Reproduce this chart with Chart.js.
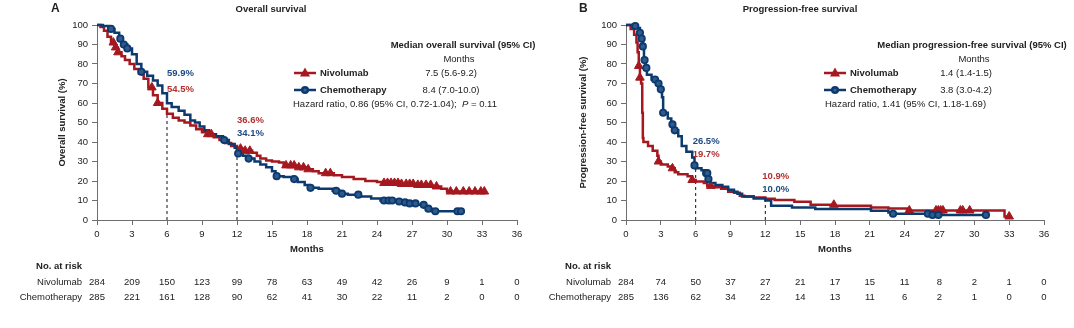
<!DOCTYPE html>
<html lang="en">
<head>
<meta charset="UTF-8">
<title>Overall survival and progression-free survival</title>
<script src="https://cdn.jsdelivr.net/npm/chart.js"></script>
<style>
    body {
        margin: 0;
        background: #fff;
        width: 1074px;
        height: 328px;
        overflow: hidden;
    }
    .panel {
        position: absolute;
        top: 0;
        height: 328px;
    }
    #panelA { left: 0; width: 540px; }
    #panelB { left: 540px; width: 534px; }
</style>
</head>
<body>

<div class="panel" id="panelA"><canvas id="osChart"></canvas></div>
<div class="panel" id="panelB"><canvas id="pfsChart"></canvas></div>

<script>
// ---- data ----
const riskMonths = [0, 3, 6, 9, 12, 15, 18, 21, 24, 27, 30, 33, 36];
const landmarkMonths = [6, 12];

// A: overall survival, Kaplan-Meier steps (month, % after the drop)
const osNivoT = [0, 0.3, 0.6, 0.9, 1.2, 1.5, 1.8, 2.1, 2.4, 2.8, 3.2, 3.6, 4.0, 4.4, 4.8, 5.2, 5.6, 6.0,
    6.5, 7.0, 7.5, 8.0, 8.5, 9.0, 9.5, 10.0, 10.5, 11.0, 11.5, 12.0, 12.5, 13.3, 13.7, 14.0, 14.5, 15.0,
    15.6, 16.0, 17.0, 18.0, 18.5, 19.0, 20.3, 21.0, 22.0, 23.0, 24.0, 24.5, 26.0, 27.4, 28.7, 29.5, 30.0, 33.3];
const osNivoS = [100, 99, 97, 94, 91, 88.5, 86, 84, 82, 80, 77.5, 75, 72.5, 68, 64, 60, 57, 54.5,
    52.5, 51, 50, 48.5, 46.5, 45, 44, 42.5, 41, 39.5, 38, 36.6, 35.5, 34.5, 33, 31.5, 30.5, 30,
    29.5, 28, 27, 26, 25, 24, 23, 22, 21, 20, 19.5, 19, 18.5, 18, 17.2, 16, 14.6, 14.6];
const osNivoCens = [1.4, 1.6, 1.8, 4.7, 5.2, 9.5, 9.8, 12.3, 12.7, 13.1, 16.2, 16.6, 16.9, 17.3, 17.7, 18.1,
    19.6, 20.0, 24.6, 24.9, 25.2, 25.5, 25.8, 26.1, 26.5, 26.8, 27.1, 27.5, 27.8, 28.2, 28.6, 29.1,
    30.3, 30.8, 31.4, 31.9, 32.4, 32.9, 33.2];

const osChemoT = [0, 0.5, 1.0, 1.5, 1.9, 2.2, 2.6, 3.0, 3.4, 3.8, 4.3, 4.8, 5.2, 5.6, 6.0, 6.4, 7.0, 7.5,
    8.0, 8.4, 8.8, 9.2, 9.6, 10.2, 10.8, 11.3, 11.8, 12.0, 12.5, 13.0, 13.5, 14.0, 14.5, 15.0, 15.3, 16.0,
    16.8, 17.2, 17.8, 18.2, 19.0, 20.2, 20.8, 21.5, 22.5, 23.5, 24.3, 25.5, 26.0, 26.5, 27.5, 28.1, 28.4,
    28.7, 31.2];
const osChemoS = [100, 99.5, 98, 96, 93, 90, 88, 85, 80, 76, 74, 71.5, 69, 65, 59.9, 58, 56, 54,
    51, 50, 48, 46, 44, 43, 41, 39, 37, 34.1, 33, 31.5, 30, 28.5, 27, 25, 22.5, 22,
    21, 19.5, 18, 16.5, 16, 15, 13.5, 13, 12, 11, 10, 9.5, 9, 8.5, 7.8, 6.8, 5.8,
    4.5, 4.5];
const osChemoCens = [1.2, 2.0, 2.3, 2.6, 3.8, 10.9, 12.1, 13.0, 15.4, 16.9, 18.3, 20.5, 21.0, 22.4,
    24.6, 25.0, 25.3, 25.9, 26.4, 26.8, 27.3, 28.0, 28.4, 29.0, 30.9, 31.2];

// B: progression-free survival
const pfsNivoT = [0, 0.4, 0.7, 0.9, 1.0, 1.1, 1.2, 1.3, 1.4, 1.45, 1.5, 1.9, 2.3, 2.7, 2.8, 3.0, 3.6, 3.9,
    4.2, 4.5, 5.3, 5.7, 6.0, 6.7, 7.0, 7.5, 8.2, 8.8, 9.3, 9.8, 10.2, 11.0, 12.0, 12.8, 14.5, 15.9, 18.0,
    21.1, 22.6, 24.2, 32.4, 32.6, 33.1];
const pfsNivoS = [100, 98, 95, 91, 86, 79, 73, 70, 55, 42, 40, 38, 35.5, 33, 30, 28.5, 27.5, 26.5,
    24.5, 23.5, 22.5, 20.5, 19.7, 19, 17.5, 16.8, 16, 14.5, 14, 12.5, 12, 11.5, 10.9, 10.3, 9.3, 7.8, 7.3,
    6.4, 5.9, 4.9, 4.9, 1.8, 1.8];
const pfsNivoCens = [1.1, 1.2, 2.8, 4.0, 5.7, 7.3, 17.9, 24.4, 26.7, 26.9, 27.1, 27.3, 28.8, 29.0, 29.6, 33.0];

const pfsChemoT = [0, 0.6, 1.0, 1.2, 1.3, 1.45, 1.55, 1.7, 1.8, 2.2, 2.6, 2.9, 3.1, 3.2, 3.6, 3.9, 4.2,
    4.5, 4.8, 5.2, 5.7, 5.9, 6.0, 6.5, 6.9, 7.1, 7.3, 7.7, 8.3, 8.8, 9.3, 9.6, 10.0, 11.0, 12.0, 12.5,
    14.3, 16.3, 21.1, 22.6, 23.0, 26.3, 31.0];
const pfsChemoS = [100, 99.5, 98.5, 96, 93, 89, 82, 78, 74.5, 72, 70, 67, 63, 55, 52, 49, 46,
    43, 38, 35, 32, 28, 26.5, 25.5, 24, 21, 19, 18, 17, 15.5, 14.5, 13.5, 12, 11, 10.0, 7.3,
    6.4, 5.6, 4.7, 3.9, 3.2, 2.6, 2.6];
const pfsChemoCens = [0.8, 1.2, 1.35, 1.45, 1.6, 1.75, 2.5, 2.8, 3.0, 3.2, 4.0, 4.2, 5.9, 6.9, 7.0, 7.1,
    23.0, 26.0, 26.4, 26.9, 31.0];

// landmark rates and medians
const osNivoLandmark = [54.5, 36.6];
const osChemoLandmark = [59.9, 34.1];
const pfsNivoLandmark = [19.7, 10.9];
const pfsChemoLandmark = [26.5, 10.0];
const osMedians = ['7.5 (5.6-9.2)', '8.4 (7.0-10.0)'];
const pfsMedians = ['1.4 (1.4-1.5)', '3.8 (3.0-4.2)'];

// numbers at risk
const osRiskNivo = [284, 209, 150, 123, 99, 78, 63, 49, 42, 26, 9, 1, 0];
const osRiskChemo = [285, 221, 161, 128, 90, 62, 41, 30, 22, 11, 2, 0, 0];
const pfsRiskNivo = [284, 74, 50, 37, 27, 21, 17, 15, 11, 8, 2, 1, 0];
const pfsRiskChemo = [285, 136, 62, 34, 22, 14, 13, 11, 6, 2, 1, 0, 0];

// ---- styles ----
const FONT = '"Liberation Sans", Arial, Helvetica, sans-serif';
const RED = '#a5181f';
const BLUE = '#0c3a6e';
const RED_TXT = '#b0302f';
const BLUE_TXT = '#1b4a84';
const INK = '#222';
const AXIS = '#6f6f6f';

// survival value of a step curve at time t
function stepAt(times, surv, t) {
    let v = surv[0];
    for (let i = 0; i < times.length; i++) {
        if (times[i] <= t) v = surv[i];
        else break;
    }
    return v;
}
const toPoints = (times, surv) => times.map((t, i) => ({ x: t, y: surv[i] }));
const censorPoints = (times, surv, marks) => marks.map(t => ({ x: t, y: stepAt(times, surv, t) }));

function txt(ctx, s, x, y, o) {
    ctx.save();
    ctx.font = (o.italic ? 'italic ' : '') + (o.bold ? 'bold ' : '') + o.size + 'px ' + FONT;
    ctx.fillStyle = o.color || INK;
    ctx.textAlign = o.align || 'left';
    ctx.textBaseline = 'middle';
    ctx.fillText(s, x, y);
    const w = ctx.measureText(s).width;
    ctx.restore();
    return w;
}

function drawMarker(ctx, style, x, y, color) {
    ctx.save();
    ctx.fillStyle = color;
    ctx.beginPath();
    if (style === 'triangle') {
        ctx.moveTo(x, y - 5.5);
        ctx.lineTo(x + 5, y + 3.5);
        ctx.lineTo(x - 5, y + 3.5);
        ctx.closePath();
        ctx.fill();
    } else {
        ctx.arc(x, y, 4, 0, Math.PI * 2);
        ctx.fill();
        ctx.fillStyle = '#3d6394';
        ctx.beginPath();
        ctx.arc(x, y, 1.6, 0, Math.PI * 2);
        ctx.fill();
    }
    ctx.restore();
}

// text, legend box and risk table, placed from the chart's own scales
const panelText = {
    id: 'panelText',
    afterDraw(chart, args, o) {
        const ctx = chart.ctx;
        const xs = chart.scales.x;
        const ca = chart.chartArea;

        txt(ctx, o.letter, o.letterX, 9, { bold: true, size: 12 });
        txt(ctx, o.title, o.titleX, 9, { bold: true, size: 9.5, align: 'center' });

        ctx.save();
        ctx.translate(o.yTitleX, (ca.top + ca.bottom) / 2);
        ctx.rotate(-Math.PI / 2);
        txt(ctx, o.yTitle, 0, 0, { bold: true, size: 9.5, align: 'center' });
        ctx.restore();

        txt(ctx, 'Months', (ca.left + ca.right) / 2, 249, { bold: true, size: 9.5, align: 'center' });

        // landmark rates
        landmarkMonths.forEach((m, i) => {
            const x = xs.getPixelForValue(m) + o.rateDx;
            const nivo = o.nivoLandmark[i], chemo = o.chemoLandmark[i];
            const top = nivo > chemo
                ? [[nivo, RED_TXT], [chemo, BLUE_TXT]]
                : [[chemo, BLUE_TXT], [nivo, RED_TXT]];
            txt(ctx, top[0][0].toFixed(1) + '%', x, o.rateY[i][0], { bold: true, size: 9.5, color: top[0][1] });
            txt(ctx, top[1][0].toFixed(1) + '%', x, o.rateY[i][1], { bold: true, size: 9.5, color: top[1][1] });
        });

        // legend box
        const L = o.legend;
        txt(ctx, L.header, L.headerX, 45, { bold: true, size: 9.5, align: 'center' });
        txt(ctx, 'Months', L.valueX + 8, 59, { size: 9.5, align: 'center' });
        [['Nivolumab', RED, 'triangle', 73], ['Chemotherapy', BLUE, 'circle', 90]].forEach((r, i) => {
            ctx.save();
            ctx.strokeStyle = r[1];
            ctx.lineWidth = 2.5;
            ctx.beginPath();
            ctx.moveTo(L.lineX, r[3]);
            ctx.lineTo(L.lineX + 22, r[3]);
            ctx.stroke();
            ctx.restore();
            drawMarker(ctx, r[2], L.lineX + 11, r[3], r[1]);
            txt(ctx, r[0], L.lineX + 26, r[3], { bold: true, size: 9.5 });
            txt(ctx, o.medians[i], L.valueX, r[3], { size: 9.5, align: 'center' });
        });
        let hx = L.hazardX;
        hx += txt(ctx, L.hazard, hx, 104, { size: 9.5 });
        if (L.p) {
            hx += txt(ctx, ';  ', hx, 104, { size: 9.5 });
            hx += txt(ctx, 'P', hx, 104, { size: 9.5, italic: true });
            txt(ctx, ' = ' + L.p, hx, 104, { size: 9.5 });
        }

        // numbers at risk
        const lx = ca.left - 15;
        txt(ctx, 'No. at risk', lx, 266, { bold: true, size: 9.5, align: 'right' });
        o.risk.forEach((row, r) => {
            const y = 282 + r * 15;
            txt(ctx, row.label, lx, y, { size: 9.5, align: 'right' });
            row.values.forEach((v, i) => {
                txt(ctx, String(v), xs.getPixelForValue(riskMonths[i]), y, { size: 9.5, align: 'center' });
            });
        });
    }
};

function makePanel(id, p) {
    const datasets = [
        {
            data: toPoints(p.nivoT, p.nivoS), stepped: true, borderColor: RED, borderWidth: 2.5,
            pointRadius: 0, fill: false, order: 3, clip: false
        },
        {
            data: toPoints(p.chemoT, p.chemoS), stepped: true, borderColor: BLUE, borderWidth: 2.5,
            pointRadius: 0, fill: false, order: 2, clip: false
        },
        {
            data: censorPoints(p.nivoT, p.nivoS, p.nivoCens), showLine: false, pointStyle: 'triangle',
            pointRadius: 5, backgroundColor: RED, borderColor: RED, borderWidth: 1, order: 1, clip: false
        },
        {
            data: censorPoints(p.chemoT, p.chemoS, p.chemoCens), showLine: false, pointStyle: 'circle',
            pointRadius: 3.2, backgroundColor: '#2e5a8c', borderColor: BLUE, borderWidth: 1.8, order: 0, clip: false
        }
    ];
    // dashed landmark drop lines
    landmarkMonths.forEach((m, i) => {
        datasets.push({
            data: [{ x: m, y: 0 }, { x: m, y: p.dashTop[i] }], borderColor: '#111', borderWidth: 1,
            borderDash: [3, 3], pointRadius: 0, order: 5
        });
    });

    return new Chart(document.getElementById(id), {
        type: 'line',
        data: { datasets },
        options: {
            responsive: true,
            maintainAspectRatio: false,
            animation: false,
            devicePixelRatio: 1,
            layout: { padding: { left: p.padLeft, right: p.padRight, top: 25, bottom: 86 } },
            plugins: {
                legend: { display: false },
                tooltip: { enabled: false },
                panelText: p.text
            },
            scales: {
                x: {
                    type: 'linear', min: 0, max: 36,
                    ticks: { stepSize: 3, color: INK, padding: 4, font: { family: FONT, size: 9.5 } },
                    grid: { drawOnChartArea: false, tickLength: 5, color: AXIS },
                    border: { color: AXIS, width: 1 },
                    afterFit(s) { s.height = 22; }
                },
                y: {
                    min: 0, max: 100,
                    ticks: { stepSize: 10, color: INK, padding: 4, font: { family: FONT, size: 9.5 } },
                    grid: { drawOnChartArea: false, tickLength: 5, color: AXIS },
                    border: { color: AXIS, width: 1 },
                    afterFit(s) { s.width = 30; }
                }
            }
        },
        plugins: [panelText]
    });
}

makePanel('osChart', {
    nivoT: osNivoT, nivoS: osNivoS, nivoCens: osNivoCens,
    chemoT: osChemoT, chemoS: osChemoS, chemoCens: osChemoCens,
    dashTop: [osNivoLandmark[0], osNivoLandmark[1]],
    padLeft: 67, padRight: 23,
    text: {
        letter: 'A', letterX: 51, title: 'Overall survival', titleX: 271,
        yTitle: 'Overall survival (%)', yTitleX: 62,
        nivoLandmark: osNivoLandmark, chemoLandmark: osChemoLandmark,
        rateY: [[73, 89], [120, 133]], rateDx: 0,
        medians: osMedians,
        legend: {
            header: 'Median overall survival (95% CI)', headerX: 463, valueX: 451,
            lineX: 294, hazardX: 293, hazard: 'Hazard ratio, 0.86 (95% CI, 0.72-1.04)', p: '0.11'
        },
        risk: [
            { label: 'Nivolumab', values: osRiskNivo },
            { label: 'Chemotherapy', values: osRiskChemo }
        ]
    }
});

makePanel('pfsChart', {
    nivoT: pfsNivoT, nivoS: pfsNivoS, nivoCens: pfsNivoCens,
    chemoT: pfsChemoT, chemoS: pfsChemoS, chemoCens: pfsChemoCens,
    dashTop: [pfsChemoLandmark[0], pfsChemoLandmark[1]],
    padLeft: 56, padRight: 30,
    text: {
        letter: 'B', letterX: 39, title: 'Progression-free survival', titleX: 260,
        yTitle: 'Progression-free survival (%)', yTitleX: 43,
        nivoLandmark: pfsNivoLandmark, chemoLandmark: pfsChemoLandmark,
        rateY: [[141, 154], [176, 189]], rateDx: -3,
        medians: pfsMedians,
        legend: {
            header: 'Median progression-free survival (95% CI)', headerX: 432, valueX: 426,
            lineX: 284, hazardX: 285, hazard: 'Hazard ratio, 1.41 (95% CI, 1.18-1.69)', p: null
        },
        risk: [
            { label: 'Nivolumab', values: pfsRiskNivo },
            { label: 'Chemotherapy', values: pfsRiskChemo }
        ]
    }
});
</script>
</body>
</html>
